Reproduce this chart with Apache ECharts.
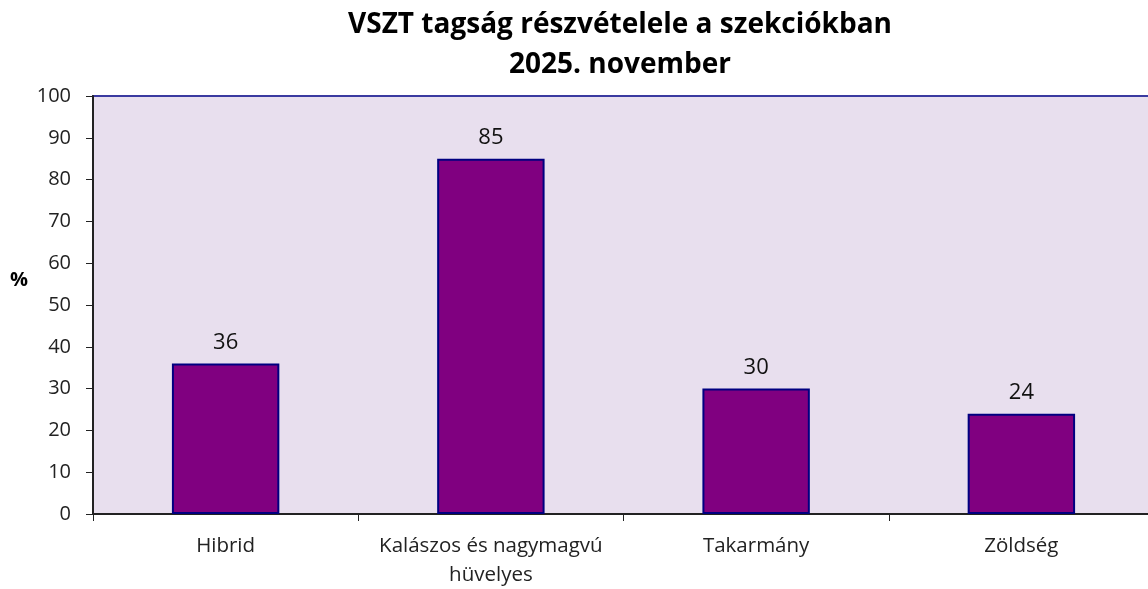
<!DOCTYPE html>
<html><head><meta charset="utf-8">
<script src="https://cdn.jsdelivr.net/npm/echarts@6/dist/echarts.min.js"></script>
<style>html,body{margin:0;padding:0;background:#fff}#c{width:1148px;height:589px}</style>
</head><body><div id="c"></div>
<script>
const categories = ['Hibrid', 'Kalászos és nagymagvú\nhüvelyes', 'Takarmány', 'Zöldség'];
const values = [36, 85, 30, 24];
const titleText = 'VSZT tagság részvételele a szekciókban\n2025. november';
const yName = '%';
const font = 'Open Sans';
const chart = echarts.init(document.getElementById('c'));
chart.setOption({
  animation: false,
  title: {
    text: titleText, left: 615, textAlign: 'center', top: 0,
    textStyle: { fontFamily: font, fontSize: 28, fontWeight: 'bold', color: '#000', lineHeight: 40 }
  },
  graphic: [{
    type: 'text', left: 10, top: 270,
    style: { text: yName, fontFamily: font, fontSize: 20, fontWeight: 'bold', fill: '#000' }
  }],
  grid: { left: 93, width: 1061, top: 96, height: 418, outerBoundsMode: 'none', containLabel: false, show: true, backgroundColor: '#E8DFEE', borderColor: '#3A3AA0', borderWidth: 2 },
  xAxis: {
    type: 'category', data: categories,
    axisLine: { lineStyle: { color: '#222', width: 2 } },
    axisTick: { show: true, length: 7, inside: false, lineStyle: { color: '#222' } },
    axisLabel: { interval: 0, fontFamily: font, fontSize: 20.5, color: '#222', margin: 18, lineHeight: 29 }
  },
  yAxis: {
    type: 'value', min: 0, max: 100, interval: 10,
    axisLine: { show: true, lineStyle: { color: '#222', width: 2 } },
    axisTick: { show: true, length: 7, lineStyle: { color: '#222' } },
    splitLine: { show: false },
    axisLabel: { fontFamily: font, fontSize: 20, color: '#222', margin: 22 }
  },
  series: [{
    type: 'bar', data: values, barWidth: '40.5%',
    itemStyle: { color: '#800080', borderColor: '#000080', borderWidth: 2 },
    label: { show: true, position: 'top', distance: 10, fontFamily: font, fontSize: 22, color: '#111' }
  }]
});
</script></body></html>
